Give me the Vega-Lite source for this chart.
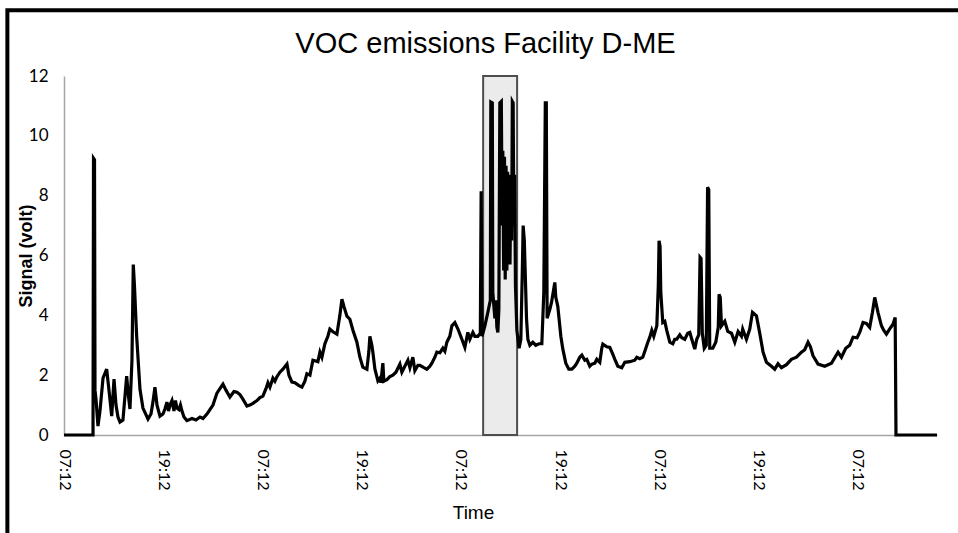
{
  "$schema": "https://vega.github.io/schema/vega-lite/v6.json",
  "width": 873,
  "height": 359,
  "autosize": {"type": "none"},
  "padding": {"left": 64, "top": 76, "right": 21, "bottom": 98},
  "background": "white",
  "config": {"view": {"stroke": null}},
  "title": {"text": "VOC emissions Facility D-ME", "font": "Liberation Sans", "fontSize": 29, "fontWeight": "normal", "color": "#000", "anchor": "middle", "dx": -15, "offset": 14, "dy": 65},
  "layer": [
    {
      "data": {"values": [{}]},
      "mark": {"type": "rect", "fillOpacity": 0, "stroke": "black", "strokeWidth": 4, "clip": false},
      "encoding": {
        "x": {"datum": -6.85, "type": "quantitative"},
        "x2": {"datum": 110},
        "y": {"datum": 14.2, "type": "quantitative"},
        "y2": {"datum": -3.6}
      }
    },
    {
      "data": {"values": [{"start": 50.7, "end": 54.81}]},
      "mark": {"type": "rect", "fill": "#ebebeb", "stroke": "#4d4d4d", "strokeWidth": 2},
      "encoding": {
        "x": {"field": "start", "type": "quantitative"},
        "x2": {"field": "end"},
        "y": {"datum": 0, "type": "quantitative"},
        "y2": {"datum": 12}
      }
    },
    {
      "data": {"values": [
        {"hours": 0, "signal": 0}, {"hours": 3.51, "signal": 0}, {"hours": 3.57, "signal": 9.25}, {"hours": 3.69, "signal": 9.2},
        {"hours": 3.75, "signal": 1.5}, {"hours": 3.87, "signal": 1.2}, {"hours": 4.11, "signal": 0.3}, {"hours": 4.35, "signal": 0.8},
        {"hours": 4.72, "signal": 1.9}, {"hours": 5.16, "signal": 2.2}, {"hours": 5.44, "signal": 1.5}, {"hours": 5.77, "signal": 0.63},
        {"hours": 6.05, "signal": 1.87}, {"hours": 6.29, "signal": 1.0}, {"hours": 6.53, "signal": 0.6}, {"hours": 6.77, "signal": 0.43},
        {"hours": 7.13, "signal": 0.5}, {"hours": 7.58, "signal": 1.97}, {"hours": 7.8, "signal": 1.3}, {"hours": 7.98, "signal": 0.87},
        {"hours": 8.22, "signal": 2.5}, {"hours": 8.38, "signal": 5.7}, {"hours": 8.52, "signal": 5.0}, {"hours": 8.79, "signal": 3.3},
        {"hours": 9.19, "signal": 1.53}, {"hours": 9.55, "signal": 0.9}, {"hours": 10.16, "signal": 0.53}, {"hours": 10.52, "signal": 0.7},
        {"hours": 10.76, "signal": 1.1}, {"hours": 11.0, "signal": 1.6}, {"hours": 11.25, "signal": 1.0}, {"hours": 11.61, "signal": 0.63},
        {"hours": 11.97, "signal": 0.7}, {"hours": 12.21, "signal": 0.87}, {"hours": 12.45, "signal": 1.1}, {"hours": 12.64, "signal": 0.8},
        {"hours": 12.82, "signal": 1.0}, {"hours": 13.06, "signal": 1.15}, {"hours": 13.3, "signal": 0.8}, {"hours": 13.48, "signal": 1.15},
        {"hours": 13.66, "signal": 0.9}, {"hours": 13.91, "signal": 0.85}, {"hours": 14.09, "signal": 1.0}, {"hours": 14.27, "signal": 0.8},
        {"hours": 14.51, "signal": 0.6}, {"hours": 14.87, "signal": 0.48}, {"hours": 15.48, "signal": 0.55}, {"hours": 15.96, "signal": 0.5},
        {"hours": 16.45, "signal": 0.6}, {"hours": 16.81, "signal": 0.55}, {"hours": 17.29, "signal": 0.7}, {"hours": 17.65, "signal": 0.85},
        {"hours": 18.02, "signal": 1.0}, {"hours": 18.5, "signal": 1.4}, {"hours": 18.86, "signal": 1.55}, {"hours": 19.23, "signal": 1.7},
        {"hours": 19.59, "signal": 1.5}, {"hours": 20.07, "signal": 1.27}, {"hours": 20.56, "signal": 1.45}, {"hours": 20.92, "signal": 1.43},
        {"hours": 21.28, "signal": 1.35}, {"hours": 21.64, "signal": 1.2}, {"hours": 22.13, "signal": 0.97}, {"hours": 22.49, "signal": 1.0},
        {"hours": 22.85, "signal": 1.06}, {"hours": 23.34, "signal": 1.15}, {"hours": 23.7, "signal": 1.25}, {"hours": 24.06, "signal": 1.3},
        {"hours": 24.43, "signal": 1.55}, {"hours": 24.67, "signal": 1.75}, {"hours": 24.91, "signal": 1.6}, {"hours": 25.27, "signal": 1.9},
        {"hours": 25.51, "signal": 1.8}, {"hours": 25.76, "signal": 1.95}, {"hours": 26.12, "signal": 2.1}, {"hours": 26.48, "signal": 2.2},
        {"hours": 26.97, "signal": 2.37}, {"hours": 27.21, "signal": 2.0}, {"hours": 27.57, "signal": 1.77}, {"hours": 27.93, "signal": 1.75},
        {"hours": 28.42, "signal": 1.65}, {"hours": 28.78, "signal": 1.6}, {"hours": 29.14, "signal": 1.8}, {"hours": 29.38, "signal": 2.05},
        {"hours": 29.75, "signal": 2.0}, {"hours": 30.11, "signal": 2.5}, {"hours": 30.35, "signal": 2.48}, {"hours": 30.71, "signal": 2.45},
        {"hours": 30.96, "signal": 2.77}, {"hours": 31.2, "signal": 2.6}, {"hours": 31.56, "signal": 3.05}, {"hours": 31.92, "signal": 3.3},
        {"hours": 32.16, "signal": 3.54}, {"hours": 32.53, "signal": 3.45}, {"hours": 33.01, "signal": 3.37}, {"hours": 33.37, "signal": 4.0},
        {"hours": 33.62, "signal": 4.54}, {"hours": 33.86, "signal": 4.3}, {"hours": 34.22, "signal": 3.97}, {"hours": 34.58, "signal": 3.87},
        {"hours": 34.95, "signal": 3.5}, {"hours": 35.43, "signal": 3.1}, {"hours": 35.79, "signal": 2.6}, {"hours": 36.15, "signal": 2.27},
        {"hours": 36.64, "signal": 2.2}, {"hours": 36.88, "signal": 2.8}, {"hours": 37.0, "signal": 3.3}, {"hours": 37.24, "signal": 3.0},
        {"hours": 37.36, "signal": 2.77}, {"hours": 37.61, "signal": 2.2}, {"hours": 37.97, "signal": 1.81}, {"hours": 38.21, "signal": 1.9},
        {"hours": 38.33, "signal": 1.75}, {"hours": 38.57, "signal": 2.4}, {"hours": 38.69, "signal": 1.8}, {"hours": 39.06, "signal": 1.85},
        {"hours": 39.42, "signal": 1.95}, {"hours": 39.78, "signal": 2.0}, {"hours": 40.15, "signal": 2.1}, {"hours": 40.63, "signal": 2.37},
        {"hours": 40.87, "signal": 2.1}, {"hours": 41.23, "signal": 2.3}, {"hours": 41.6, "signal": 2.5}, {"hours": 41.84, "signal": 2.25},
        {"hours": 42.2, "signal": 2.6}, {"hours": 42.44, "signal": 2.15}, {"hours": 42.81, "signal": 2.33}, {"hours": 43.05, "signal": 2.33},
        {"hours": 43.53, "signal": 2.25}, {"hours": 43.89, "signal": 2.2}, {"hours": 44.26, "signal": 2.3}, {"hours": 44.5, "signal": 2.4},
        {"hours": 44.86, "signal": 2.6}, {"hours": 45.1, "signal": 2.77}, {"hours": 45.47, "signal": 2.75}, {"hours": 45.83, "signal": 2.9},
        {"hours": 46.07, "signal": 2.8}, {"hours": 46.31, "signal": 3.1}, {"hours": 46.67, "signal": 3.3}, {"hours": 46.92, "signal": 3.65},
        {"hours": 47.28, "signal": 3.76}, {"hours": 47.64, "signal": 3.55}, {"hours": 48.13, "signal": 3.2}, {"hours": 48.49, "signal": 2.93},
        {"hours": 48.85, "signal": 3.43}, {"hours": 49.09, "signal": 3.2}, {"hours": 49.46, "signal": 3.43}, {"hours": 49.7, "signal": 3.3},
        {"hours": 50.06, "signal": 3.3}, {"hours": 50.36, "signal": 3.4}, {"hours": 50.46, "signal": 8.15}, {"hours": 50.57, "signal": 3.3},
        {"hours": 50.91, "signal": 3.65}, {"hours": 51.27, "signal": 4.1}, {"hours": 51.57, "signal": 4.5}, {"hours": 51.63, "signal": 11.13},
        {"hours": 51.81, "signal": 11.1}, {"hours": 51.87, "signal": 4.77}, {"hours": 52.0, "signal": 4.3}, {"hours": 52.12, "signal": 3.9},
        {"hours": 52.24, "signal": 4.5}, {"hours": 52.36, "signal": 3.6}, {"hours": 52.48, "signal": 3.43}, {"hours": 52.6, "signal": 4.2},
        {"hours": 52.72, "signal": 11.1}, {"hours": 52.9, "signal": 11.15}, {"hours": 53.0, "signal": 7.0}, {"hours": 53.08, "signal": 9.5},
        {"hours": 53.18, "signal": 5.5}, {"hours": 53.28, "signal": 9.3}, {"hours": 53.37, "signal": 5.2}, {"hours": 53.47, "signal": 9.0},
        {"hours": 53.57, "signal": 5.5}, {"hours": 53.66, "signal": 8.8}, {"hours": 53.76, "signal": 5.8}, {"hours": 53.86, "signal": 8.5},
        {"hours": 53.95, "signal": 5.7}, {"hours": 54.05, "signal": 8.7}, {"hours": 54.15, "signal": 6.5}, {"hours": 54.23, "signal": 11.15},
        {"hours": 54.33, "signal": 11.1}, {"hours": 54.41, "signal": 7.0}, {"hours": 54.51, "signal": 8.7}, {"hours": 54.61, "signal": 5.0},
        {"hours": 54.78, "signal": 3.5}, {"hours": 55.05, "signal": 2.9}, {"hours": 55.26, "signal": 3.2}, {"hours": 55.44, "signal": 5.5},
        {"hours": 55.54, "signal": 7.0}, {"hours": 55.68, "signal": 6.5}, {"hours": 55.95, "signal": 3.87}, {"hours": 56.11, "signal": 3.2},
        {"hours": 56.35, "signal": 3.0}, {"hours": 56.71, "signal": 3.1}, {"hours": 57.07, "signal": 3.0}, {"hours": 57.44, "signal": 3.05},
        {"hours": 57.8, "signal": 3.05}, {"hours": 58.04, "signal": 4.77}, {"hours": 58.22, "signal": 11.1}, {"hours": 58.34, "signal": 11.1},
        {"hours": 58.44, "signal": 3.9}, {"hours": 58.77, "signal": 4.2}, {"hours": 58.97, "signal": 4.43}, {"hours": 59.37, "signal": 5.1},
        {"hours": 59.49, "signal": 4.6}, {"hours": 59.73, "signal": 4.3}, {"hours": 60.1, "signal": 3.3}, {"hours": 60.34, "signal": 2.87},
        {"hours": 60.7, "signal": 2.4}, {"hours": 61.06, "signal": 2.2}, {"hours": 61.43, "signal": 2.2}, {"hours": 61.79, "signal": 2.3},
        {"hours": 62.03, "signal": 2.4}, {"hours": 62.39, "signal": 2.6}, {"hours": 62.64, "signal": 2.67}, {"hours": 63.0, "signal": 2.5},
        {"hours": 63.24, "signal": 2.53}, {"hours": 63.6, "signal": 2.3}, {"hours": 63.85, "signal": 2.37}, {"hours": 64.21, "signal": 2.4},
        {"hours": 64.45, "signal": 2.53}, {"hours": 64.81, "signal": 2.43}, {"hours": 65.05, "signal": 2.9}, {"hours": 65.18, "signal": 3.04},
        {"hours": 65.66, "signal": 2.95}, {"hours": 66.02, "signal": 2.93}, {"hours": 66.38, "signal": 2.7}, {"hours": 66.63, "signal": 2.53},
        {"hours": 66.99, "signal": 2.3}, {"hours": 67.47, "signal": 2.25}, {"hours": 67.84, "signal": 2.43}, {"hours": 68.44, "signal": 2.45},
        {"hours": 69.05, "signal": 2.5}, {"hours": 69.29, "signal": 2.6}, {"hours": 69.65, "signal": 2.55}, {"hours": 70.01, "signal": 2.6},
        {"hours": 70.38, "signal": 2.9}, {"hours": 70.62, "signal": 3.1}, {"hours": 70.86, "signal": 3.27}, {"hours": 71.1, "signal": 3.5},
        {"hours": 71.34, "signal": 3.3}, {"hours": 71.71, "signal": 3.65}, {"hours": 71.89, "signal": 5.0}, {"hours": 71.98, "signal": 6.49},
        {"hours": 72.1, "signal": 6.3}, {"hours": 72.19, "signal": 4.77}, {"hours": 72.43, "signal": 3.76}, {"hours": 72.67, "signal": 3.8},
        {"hours": 72.91, "signal": 3.5}, {"hours": 73.28, "signal": 3.1}, {"hours": 73.64, "signal": 3.05}, {"hours": 73.88, "signal": 3.2},
        {"hours": 74.12, "signal": 3.2}, {"hours": 74.49, "signal": 3.35}, {"hours": 74.73, "signal": 3.25}, {"hours": 75.09, "signal": 3.2},
        {"hours": 75.45, "signal": 3.4}, {"hours": 75.7, "signal": 3.43}, {"hours": 75.94, "signal": 3.2}, {"hours": 76.3, "signal": 2.87},
        {"hours": 76.54, "signal": 3.2}, {"hours": 76.78, "signal": 3.35}, {"hours": 76.94, "signal": 5.94}, {"hours": 77.06, "signal": 5.9},
        {"hours": 77.21, "signal": 3.4}, {"hours": 77.45, "signal": 2.9}, {"hours": 77.69, "signal": 3.0}, {"hours": 77.85, "signal": 8.28},
        {"hours": 77.99, "signal": 8.2}, {"hours": 78.11, "signal": 2.9}, {"hours": 78.48, "signal": 2.9}, {"hours": 78.84, "signal": 3.1},
        {"hours": 79.14, "signal": 3.6}, {"hours": 79.24, "signal": 4.7}, {"hours": 79.38, "signal": 4.6}, {"hours": 79.53, "signal": 3.65},
        {"hours": 79.93, "signal": 3.8}, {"hours": 80.29, "signal": 3.46}, {"hours": 80.74, "signal": 3.4}, {"hours": 81.14, "signal": 3.1},
        {"hours": 81.54, "signal": 3.46}, {"hours": 81.95, "signal": 3.3}, {"hours": 82.1, "signal": 3.54}, {"hours": 82.55, "signal": 3.2},
        {"hours": 82.95, "signal": 3.54}, {"hours": 83.28, "signal": 4.1}, {"hours": 83.76, "signal": 3.98}, {"hours": 84.16, "signal": 3.4},
        {"hours": 84.56, "signal": 2.77}, {"hours": 84.97, "signal": 2.43}, {"hours": 85.57, "signal": 2.3}, {"hours": 85.97, "signal": 2.2},
        {"hours": 86.37, "signal": 2.38}, {"hours": 86.78, "signal": 2.25}, {"hours": 87.39, "signal": 2.35}, {"hours": 87.99, "signal": 2.53},
        {"hours": 88.6, "signal": 2.6}, {"hours": 89.2, "signal": 2.77}, {"hours": 89.6, "signal": 2.85}, {"hours": 90.0, "signal": 3.1},
        {"hours": 90.29, "signal": 2.95}, {"hours": 90.6, "signal": 2.65}, {"hours": 91.21, "signal": 2.37}, {"hours": 92.02, "signal": 2.3},
        {"hours": 92.83, "signal": 2.4}, {"hours": 93.63, "signal": 2.77}, {"hours": 94.04, "signal": 2.6}, {"hours": 94.56, "signal": 2.9},
        {"hours": 95.04, "signal": 3.0}, {"hours": 95.44, "signal": 3.27}, {"hours": 95.93, "signal": 3.25}, {"hours": 96.25, "signal": 3.43},
        {"hours": 96.65, "signal": 3.76}, {"hours": 97.06, "signal": 3.73}, {"hours": 97.46, "signal": 3.6}, {"hours": 97.79, "signal": 4.1},
        {"hours": 98.07, "signal": 4.6}, {"hours": 98.46, "signal": 4.1}, {"hours": 98.88, "signal": 3.65}, {"hours": 99.15, "signal": 3.5},
        {"hours": 99.48, "signal": 3.37}, {"hours": 99.88, "signal": 3.55}, {"hours": 100.28, "signal": 3.7}, {"hours": 100.54, "signal": 3.93},
        {"hours": 100.64, "signal": 0}, {"hours": 105.6, "signal": 0}
      ]},
      "mark": {"type": "line", "color": "black", "strokeWidth": 3.2, "strokeJoin": "miter"},
      "encoding": {
        "x": {
          "field": "hours", "type": "quantitative",
          "scale": {"domain": [0, 105.6], "nice": false, "zero": false},
          "axis": {
            "title": "Time", "values": [0, 12, 24, 36, 48, 60, 72, 84, 96],
            "labelExpr": "datum.value % 24 == 0 ? '07:12' : '19:12'",
            "labelAngle": 90, "labelFont": "Lato", "labelFontSize": 16, "labelColor": "#000",
            "labelPadding": 14, "labelFlush": false, "labelOverlap": false,
            "ticks": false, "grid": false, "domainColor": "#a6a6a6", "domainWidth": 1.5,
            "titleFont": "Liberation Sans", "titleFontSize": 19, "titleFontWeight": "normal", "titleColor": "#000",
            "titleX": 409, "titleY": 68, "titleBaseline": "top"
          }
        },
        "y": {
          "field": "signal", "type": "quantitative",
          "scale": {"domain": [0, 12], "nice": false},
          "axis": {
            "title": "Signal (volt)", "values": [0, 2, 4, 6, 8, 10, 12],
            "labelFont": "Lato", "labelFontSize": 17, "labelColor": "#000", "labelPadding": 16,
            "ticks": false, "grid": false, "domainColor": "#a6a6a6", "domainWidth": 1.5,
            "titleFont": "Liberation Sans", "titleFontSize": 18, "titleFontWeight": "bold", "titleColor": "#000",
            "titleX": -29, "titleY": 179.5, "titleAlign": "center", "titleAngle": -90
          }
        }
      }
    }
  ]
}
